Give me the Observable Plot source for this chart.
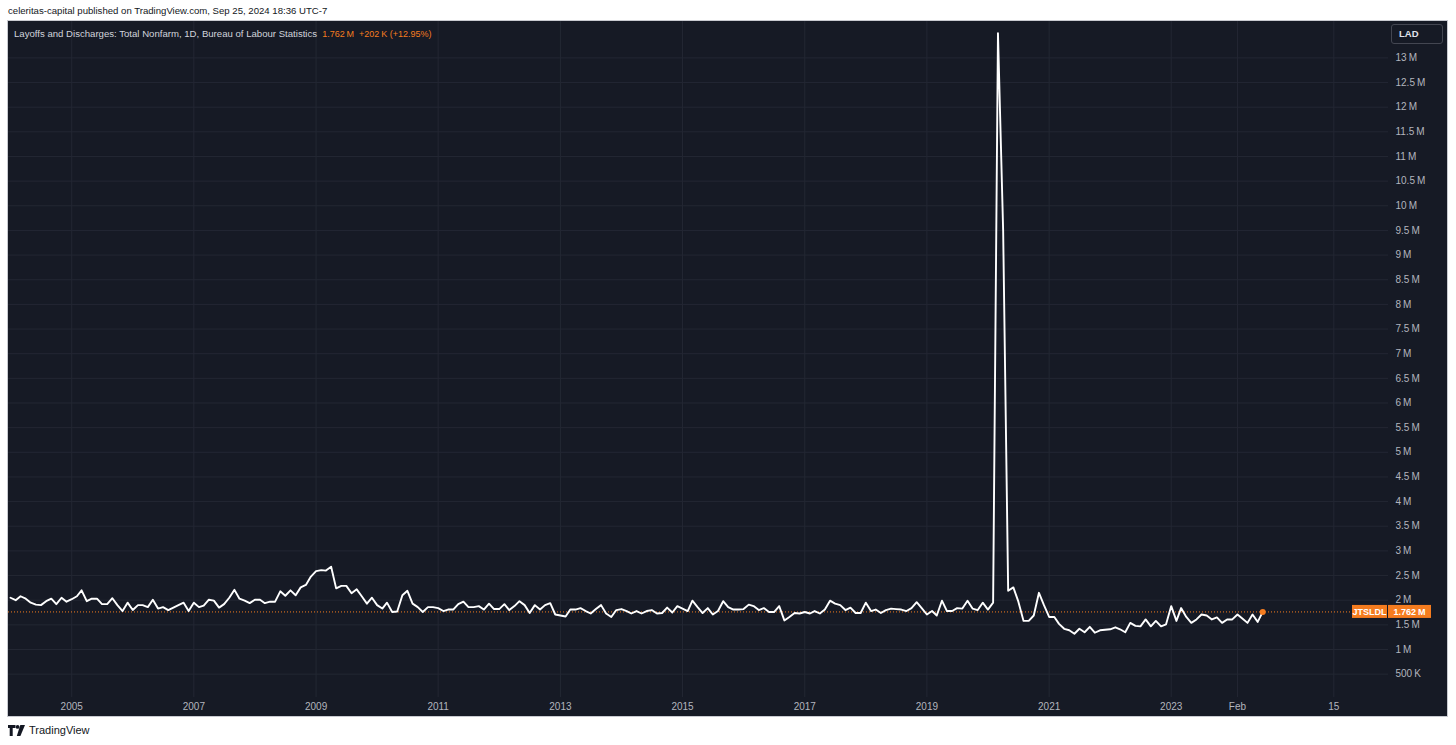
<!DOCTYPE html>
<html>
<head>
<meta charset="utf-8">
<script src="https://cdn.jsdelivr.net/npm/d3@7"></script>
<script src="https://cdn.jsdelivr.net/npm/@observablehq/plot@0.6"></script>
<style>
  html, body { margin: 0; padding: 0; background: #ffffff; }
  body { width: 1456px; height: 745px; position: relative; overflow: hidden; font-family: "Liberation Sans", Arial, sans-serif; }
  #header { position: absolute; left: 8px; top: 5px; font-size: 9.6px; color: #131722; white-space: nowrap; }
  #panel { position: absolute; left: 8px; top: 21px; width: 1439px; height: 695px; background: #161a25; }
  #panel svg { position: absolute; left: 0; top: 0; }
  #legend { position: absolute; left: 14px; top: 28px; font-size: 9.6px; color: #d1d4dc; white-space: nowrap; }
  #legend .val { color: #f57c1f; font-size: 9px; }
  #lad { position: absolute; left: 1391px; top: 24px; width: 52px; height: 20px; border: 1px solid #434651; border-radius: 3px; box-sizing: border-box; color: #e0e3eb; font-size: 9.5px; font-weight: bold; line-height: 18px; padding-left: 7px; background: #161a25; }
  #footer { position: absolute; left: 8px; top: 724px; display: flex; align-items: center; gap: 4px; font-size: 11px; color: #131722; }
  #panelBorder { position: absolute; left: 7px; top: 20px; width: 1441px; height: 697px; box-sizing: border-box; border: 1px solid #c8cad0; pointer-events: none; }
</style>
</head>
<body>
<div id="header">celeritas-capital published on TradingView.com, Sep 25, 2024 18:36 UTC-7</div>
<div id="panelBorder"></div>
<div id="panel"></div>
<div id="legend">Layoffs and Discharges: Total Nonfarm, 1D, Bureau of Labour Statistics <span class="val">&nbsp;1.762&#8201;M&nbsp;&nbsp;+202&#8201;K (+12.95%)</span></div>
<div id="lad">LAD</div>
<div id="footer">
  <svg width="17" height="11" viewBox="0 0 17 11"><path d="M0 0h7.5v3h-2.8v8h-3v-8h-1.7z" fill="#131722"/><circle cx="9.6" cy="1.9" r="1.9" fill="#131722"/><path d="M12.3 0h4.7l-4.6 11h-3.6z" fill="#131722"/></svg>
  <span>TradingView</span>
</div>
<script>
// ---- data (monthly, millions) ----
const firstMonth = "2004-01-01";
const values2004to2011 = [
  2.05, 2.00, 2.08, 2.03, 1.95, 1.91, 1.90, 1.98, 2.03, 1.92, 2.05, 1.97,
  2.02, 2.08, 2.20, 1.98, 2.03, 2.03, 1.92, 1.92, 2.04, 1.90, 1.78, 1.95,
  1.80, 1.90, 1.90, 1.86, 2.01, 1.83, 1.86, 1.80, 1.85, 1.90, 1.95, 1.78,
  1.95, 1.86, 1.89, 2.01, 1.99, 1.85, 1.92, 2.05, 2.21, 2.03, 1.99, 1.94,
  2.01, 2.01, 1.94, 1.97, 1.97, 2.18, 2.09, 2.20, 2.10, 2.26, 2.31, 2.48,
  2.59, 2.61, 2.60, 2.68, 2.24, 2.29, 2.29, 2.14, 2.22, 2.08, 1.93, 2.05,
  1.90, 1.83, 1.95, 1.76, 1.77, 2.10, 2.19, 1.93, 1.86, 1.76, 1.86, 1.86,
  1.84, 1.78, 1.81, 1.81, 1.92, 1.97, 1.86, 1.86, 1.88, 1.81, 1.93, 1.82
];
const values2012to2015 = [
  1.82, 1.92, 1.80, 1.88, 1.98, 1.90, 1.74, 1.90, 1.81, 1.90, 1.94, 1.71,
  1.69, 1.67, 1.81, 1.81, 1.84, 1.78, 1.73, 1.82, 1.90, 1.73, 1.66, 1.80,
  1.82, 1.78, 1.73, 1.78, 1.73, 1.78, 1.80, 1.73, 1.74, 1.85, 1.75, 1.88,
  1.83, 1.78, 1.99, 1.86, 1.74, 1.84, 1.71, 1.78, 1.98, 1.86, 1.81, 1.81
];
const values2016to2019 = [
  1.82, 1.91, 1.88, 1.80, 1.84, 1.76, 1.76, 1.88, 1.59, 1.66, 1.74, 1.73,
  1.76, 1.73, 1.78, 1.73, 1.81, 1.99, 1.93, 1.90, 1.80, 1.85, 1.74, 1.74,
  1.95, 1.78, 1.81, 1.74, 1.80, 1.83, 1.82, 1.81, 1.78, 1.84, 1.96, 1.84,
  1.71, 1.78, 1.69, 1.99, 1.78, 1.78, 1.84, 1.83, 1.99, 1.83, 1.80, 1.95
];
const values2020to2024 = [
  1.81, 1.95, 13.5, 9.5, 2.19, 2.26, 1.97, 1.58, 1.58, 1.69, 2.15, 1.90,
  1.66, 1.66, 1.52, 1.42, 1.39, 1.32, 1.42, 1.35, 1.46, 1.34, 1.39, 1.40,
  1.41, 1.45, 1.41, 1.35, 1.54, 1.48, 1.47, 1.61, 1.47, 1.58, 1.47, 1.51,
  1.88, 1.58, 1.84, 1.66, 1.54, 1.61, 1.71, 1.69, 1.61, 1.65, 1.54, 1.61,
  1.61, 1.71, 1.63, 1.54, 1.71, 1.56, 1.762
];
const seriesValues = [...values2004to2011, ...values2012to2015, ...values2016to2019, ...values2020to2024];

const yTicks = [0.5, 1, 1.5, 2, 2.5, 3, 3.5, 4, 4.5, 5, 5.5, 6, 6.5, 7, 7.5, 8, 8.5, 9, 9.5, 10, 10.5, 11, 11.5, 12, 12.5, 13];
const yTickLabels = ["500\u2009K", "1\u2009M", "1.5\u2009M", "2\u2009M", "2.5\u2009M", "3\u2009M", "3.5\u2009M", "4\u2009M", "4.5\u2009M", "5\u2009M", "5.5\u2009M", "6\u2009M", "6.5\u2009M", "7\u2009M", "7.5\u2009M", "8\u2009M", "8.5\u2009M", "9\u2009M", "9.5\u2009M", "10\u2009M", "10.5\u2009M", "11\u2009M", "11.5\u2009M", "12\u2009M", "12.5\u2009M", "13\u2009M"];
const xTickDates = ["2005-01-01", "2007-01-01", "2009-01-01", "2011-01-01", "2013-01-01", "2015-01-01", "2017-01-01", "2019-01-01", "2021-01-01", "2023-01-01", "2024-02-01", "2025-08-30"];
const xTickLabels = ["2005", "2007", "2009", "2011", "2013", "2015", "2017", "2019", "2021", "2023", "Feb", "15"];
const seriesSymbol = "JTSLDL";
const lastLabel = "1.762\u2009M";

// ---- build table ----
const start = new Date(firstMonth + "T00:00:00Z");
const data = seriesValues.map((v, i) => ({ date: d3.utcMonth.offset(start, i), value: v }));
const last = data[data.length - 1];
const xTicks = xTickDates.map(s => new Date(s + "T00:00:00Z"));
const xLabelMap = new Map(xTicks.map((d, i) => [+d, xTickLabels[i]]));
const yLabelMap = new Map(yTicks.map((v, i) => [v, yTickLabels[i]]));

const ORANGE = "#f57c1f";
const GRID = "#232733";

const chart = Plot.plot({
  width: 1439,
  height: 695,
  marginLeft: 0,
  marginRight: 59,
  marginTop: 0,
  marginBottom: 19,
  style: { background: "transparent", color: "#b2b5be", fontFamily: "Liberation Sans, Arial, sans-serif", fontSize: "10px", overflow: "visible" },
  x: { type: "utc", domain: [new Date(Date.UTC(2003, 11, 20)), new Date(Date.UTC(2026, 6, 23))] },
  y: { domain: [0.0264, 13.738] },
  marks: [
    Plot.gridY(yTicks, { stroke: GRID, strokeOpacity: 1 }),
    Plot.gridX(xTicks, { stroke: GRID, strokeOpacity: 1 }),
    Plot.ruleY([last.value], { stroke: ORANGE, strokeWidth: 1, strokeDasharray: "1,2" }),
    Plot.line(data, { x: "date", y: "value", stroke: "#ffffff", strokeWidth: 1.9, strokeLinejoin: "round" }),
    Plot.dot([last], { x: "date", y: "value", r: 3, fill: ORANGE, stroke: null }),
    Plot.axisY(yTicks, { anchor: "right", tickSize: 0, tickPadding: 7, label: null, tickFormat: v => yLabelMap.get(v), fill: "#b2b5be", fontSize: 10 }),
    Plot.axisX(xTicks, { anchor: "bottom", tickSize: 0, tickPadding: 5, label: null, tickFormat: d => xLabelMap.get(+d), fill: "#b2b5be", fontSize: 10 })
  ]
});
document.getElementById("panel").appendChild(chart);

// price label boxes on the right, positioned through the y scale
const yPos = chart.scale("y").apply(last.value);
const svg = d3.select(chart);
const g = svg.append("g");
const boxes = [
  { x0: 1344, x1: 1379, text: seriesSymbol },
  { x0: 1380, x1: 1423, text: lastLabel }
];
boxes.forEach(b => {
  g.append("rect").attr("x", b.x0).attr("y", yPos - 6.5).attr("width", b.x1 - b.x0).attr("height", 13).attr("fill", ORANGE);
  g.append("text").attr("x", (b.x0 + b.x1) / 2).attr("y", yPos).attr("dy", "0.35em")
    .attr("text-anchor", "middle").attr("fill", "#ffffff").attr("font-size", 9).attr("font-weight", "bold").text(b.text);
});
</script>
</body>
</html>
